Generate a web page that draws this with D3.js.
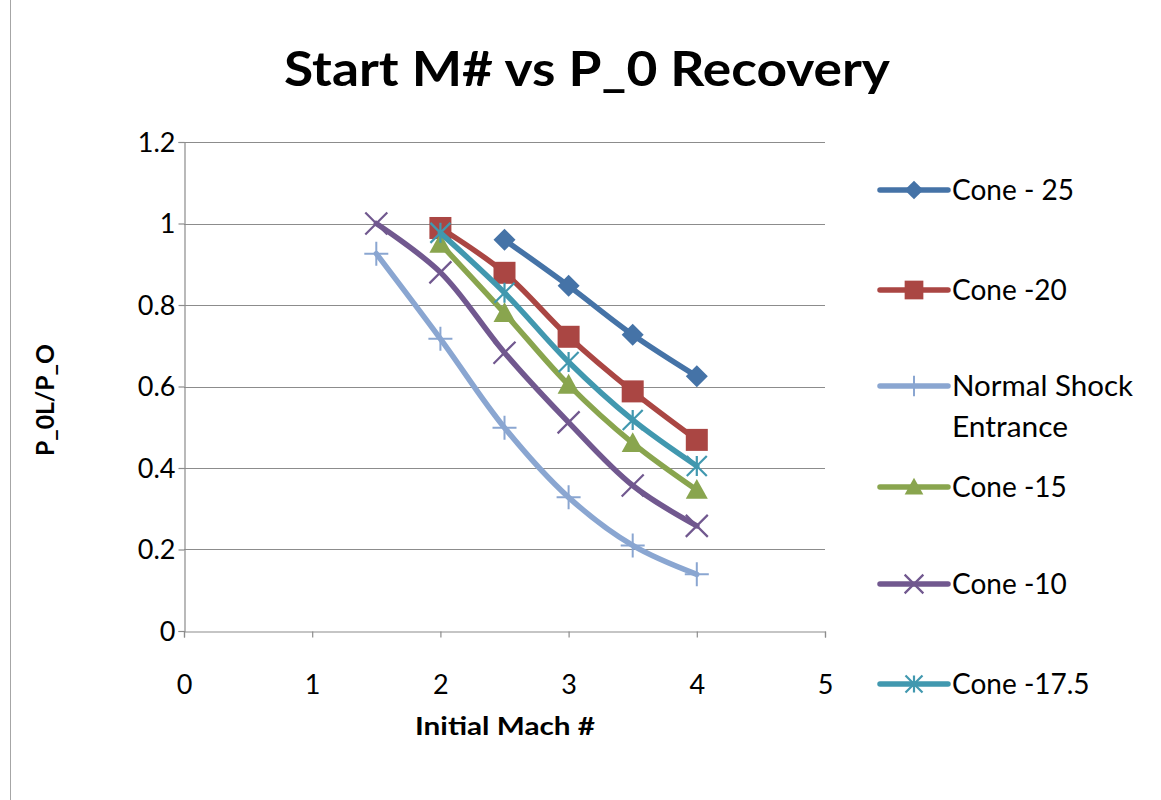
<!DOCTYPE html>
<html>
<head>
<meta charset="utf-8">
<script src="https://cdn.jsdelivr.net/npm/d3@7"></script>
<style>
  html, body { margin: 0; padding: 0; background: #fff; }
  svg { display: block; }
  text { font-family: Lato, "Open Sans", sans-serif; fill: #000; }
</style>
</head>
<body>
<svg id="chart" width="1161" height="800"></svg>
<script>
// Pressure recovery P_0L/P_O against initial Mach number
const cone25  = [[2.5, 0.960], [3, 0.847], [3.5, 0.727], [4, 0.625]];
const cone20  = [[2, 0.989], [2.5, 0.879], [3, 0.722], [3.5, 0.588], [4, 0.469]];
const normalShock = [[1.5, 0.926], [2, 0.717], [2.5, 0.499], [3, 0.328], [3.5, 0.210], [4, 0.139]];
const cone15  = [[2, 0.950], [2.5, 0.780], [3, 0.604], [3.5, 0.461], [4, 0.346]];
const cone10  = [[1.5, 1.000], [2, 0.880], [2.5, 0.683], [3, 0.512], [3.5, 0.357], [4, 0.258]];
const cone175 = [[2, 0.977], [2.5, 0.830], [3, 0.660], [3.5, 0.518], [4, 0.405]];

const seriesNames = ["Cone - 25", "Cone -20", "Normal Shock Entrance", "Cone -15", "Cone -10", "Cone -17.5"];
const xTicks = [0, 1, 2, 3, 4, 5];
const yTicks = [0, 0.2, 0.4, 0.6, 0.8, 1, 1.2];

const series = [
  { name: seriesNames[0], data: cone25,      color: "#4573A7", marker: "diamond" },
  { name: seriesNames[1], data: cone20,      color: "#AA4643", marker: "square" },
  { name: seriesNames[2], data: normalShock, color: "#8AA6D1", marker: "plus" },
  { name: seriesNames[3], data: cone15,      color: "#89A54E", marker: "triangle" },
  { name: seriesNames[4], data: cone10,      color: "#71588F", marker: "cross" },
  { name: seriesNames[5], data: cone175,     color: "#4198AF", marker: "star" }
];

const svg = d3.select("#chart");
const plot = { left: 184, right: 825, top: 142, bottom: 631 };

const x = d3.scaleLinear().domain([0, 5]).range([plot.left, plot.right]);
const y = d3.scaleLinear().domain([0, 1.2]).range([plot.bottom, plot.top]);

// chart-area border on the left edge
svg.append("line").attr("x1", 10.5).attr("x2", 10.5).attr("y1", 0).attr("y2", 800)
  .attr("stroke", "#a6a6a6").attr("stroke-width", 1);

// title
svg.append("text").attr("x", 587).attr("y", 86).attr("text-anchor", "middle")
  .attr("font-size", 48).attr("font-weight", "bold")
  .attr("textLength", 606).attr("lengthAdjust", "spacingAndGlyphs")
  .text("Start M# vs P_0 Recovery");

// horizontal gridlines
svg.append("g").selectAll("line").data(yTicks.filter(d => d > 0)).join("line")
  .attr("x1", plot.left).attr("x2", plot.right)
  .attr("y1", d => Math.round(y(d)) + 0.5).attr("y2", d => Math.round(y(d)) + 0.5)
  .attr("stroke", "#8c8c8c").attr("stroke-width", 1.2);

// y axis
const yAxis = svg.append("g").attr("transform", `translate(${plot.left + 0.5},0)`)
  .call(d3.axisLeft(y).tickValues(yTicks).tickFormat(d => String(d)).tickSize(6).tickPadding(3));
// x axis
const xAxis = svg.append("g").attr("transform", `translate(0,${Math.round(plot.bottom) + 0.5})`)
  .call(d3.axisBottom(x).tickValues(xTicks).tickFormat(d => String(d)).tickSize(6).tickPadding(37));

[yAxis, xAxis].forEach(g => {
  g.select(".domain").attr("stroke", "#8c8c8c").attr("stroke-width", 1.2);
  g.selectAll(".tick line").attr("stroke", "#8c8c8c").attr("stroke-width", 1.2);
  g.selectAll(".tick text").attr("font-size", 27).attr("fill", "#000")
    .style("font-family", "Lato, 'Open Sans', sans-serif");
});
yAxis.selectAll(".tick text").attr("dy", "0.35em");

// axis titles
svg.append("text").attr("x", 505).attr("y", 735).attr("text-anchor", "middle")
  .attr("font-size", 25).attr("font-weight", "bold")
  .attr("textLength", 180).attr("lengthAdjust", "spacingAndGlyphs").text("Initial Mach #");
svg.append("text").attr("transform", "translate(54,400) rotate(-90)")
  .attr("text-anchor", "middle").attr("font-size", 24).attr("font-weight", "bold")
  .attr("textLength", 112).attr("lengthAdjust", "spacingAndGlyphs").text("P_0L/P_O");

// marker drawing
function drawMarker(g, type, color, size) {
  const s = size / 2;
  switch (type) {
    case "diamond":
      g.append("path").attr("d", `M0,${-s}L${s},0L0,${s}L${-s},0Z`).attr("fill", color);
      break;
    case "square":
      g.append("rect").attr("x", -s).attr("y", -s).attr("width", size).attr("height", size).attr("fill", color);
      break;
    case "triangle":
      g.append("path").attr("d", `M0,${-s}L${s},${s * 0.8}L${-s},${s * 0.8}Z`).attr("fill", color);
      break;
    case "plus":
      g.append("path").attr("d", `M${-s},0H${s}M0,${-s}V${s}`).attr("stroke", color).attr("stroke-width", 2);
      break;
    case "cross":
      g.append("path").attr("d", `M${-s},${-s}L${s},${s}M${-s},${s}L${s},${-s}`).attr("stroke", color).attr("stroke-width", 2.2);
      break;
    case "star":
      g.append("path").attr("d", `M${-s},${-s}L${s},${s}M${-s},${s}L${s},${-s}M0,${-s}V${s}`)
        .attr("stroke", color).attr("stroke-width", 2.2);
      break;
  }
}
const markerSize = { diamond: 22, square: 22, triangle: 22, plus: 24, cross: 22, star: 20 };

const line = d3.line().x(d => x(d[0])).y(d => y(d[1])).curve(d3.curveCatmullRom.alpha(0.5));

// draw series
series.forEach(s => {
  const g = svg.append("g");
  g.append("path").datum(s.data).attr("d", line)
    .attr("fill", "none").attr("stroke", s.color).attr("stroke-width", 5.5)
    .attr("stroke-linejoin", "round").attr("stroke-linecap", "round");
  g.selectAll("g.pt").data(s.data).join("g").attr("class", "pt")
    .attr("transform", d => `translate(${x(d[0])},${y(d[1])})`)
    .each(function () { drawMarker(d3.select(this), s.marker, s.color, markerSize[s.marker]); });
});

// legend
const legendRows = [190, 290, 386, 487, 584, 684];
series.forEach((s, i) => {
  const ly = legendRows[i];
  const g = svg.append("g").attr("transform", `translate(880,${ly})`);
  g.append("line").attr("x1", 0).attr("x2", 68).attr("y1", 0).attr("y2", 0)
    .attr("stroke", s.color).attr("stroke-width", 5.5).attr("stroke-linecap", "round");
  const mg = g.append("g").attr("transform", "translate(34,0)");
  drawMarker(mg, s.marker, s.color, markerSize[s.marker] * 0.85);
  const fs = 28;
  if (s.name === "Normal Shock Entrance") {
    const t = g.append("text").attr("x", 72).attr("y", 0).attr("dy", "0.35em").attr("font-size", fs);
    t.append("tspan").attr("x", 72).attr("textLength", 181).attr("lengthAdjust", "spacingAndGlyphs").text("Normal Shock");
    t.append("tspan").attr("x", 72).attr("dy", 41).attr("textLength", 116).attr("lengthAdjust", "spacingAndGlyphs").text("Entrance");
  } else {
    g.append("text").attr("x", 72).attr("y", 0).attr("dy", "0.35em").attr("font-size", fs).text(s.name);
  }
});
</script>
</body>
</html>
